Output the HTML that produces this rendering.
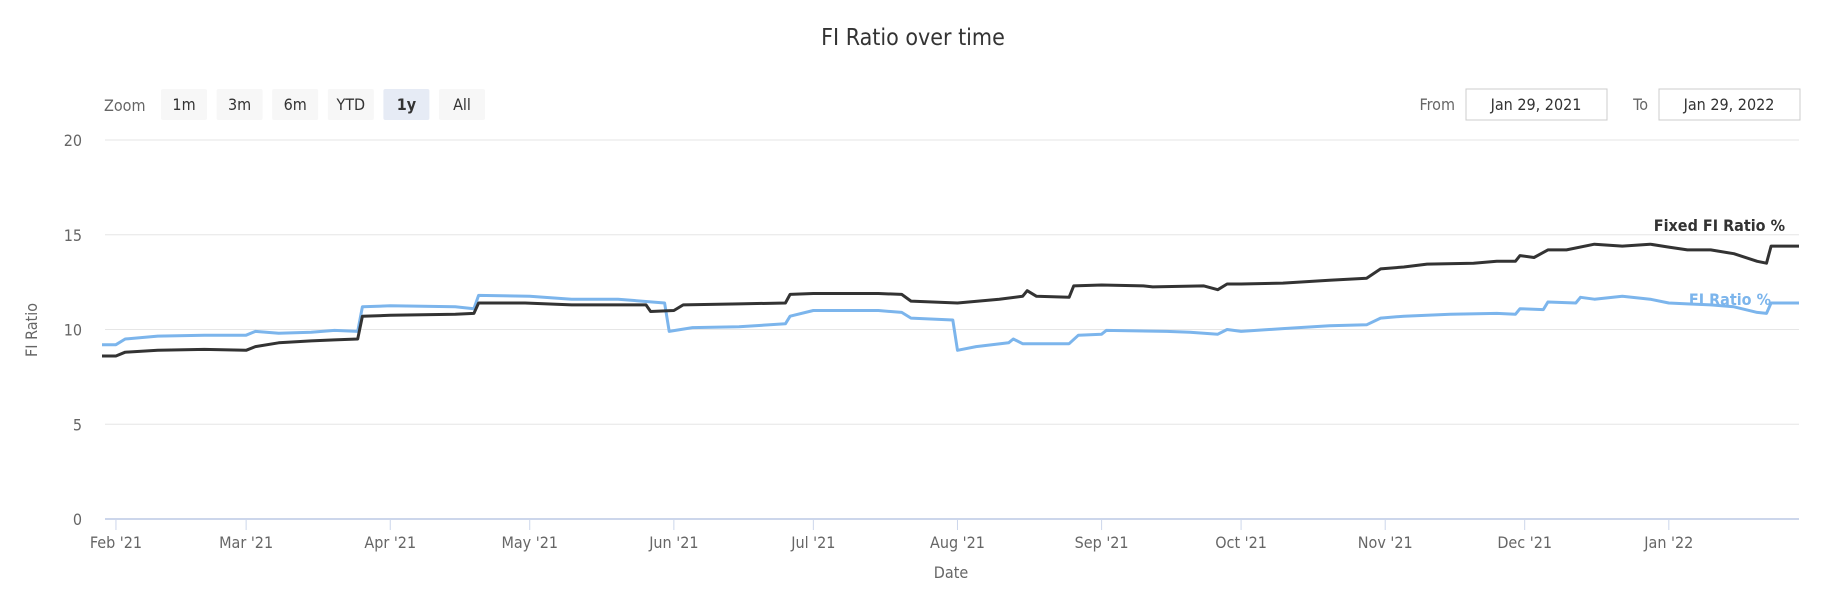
<!DOCTYPE html>
<html><head><meta charset="utf-8"><style>
body{margin:0;background:#fff;font-family:"Liberation Sans","DejaVu Sans",sans-serif;}
svg text{font-family:"DejaVu Sans Condensed","Liberation Sans",sans-serif;}
</style></head><body>
<svg id="c" width="1826" height="600" xmlns="http://www.w3.org/2000/svg">
<text x="913" y="45" text-anchor="middle" font-size="23" fill="#333">FI Ratio over time</text>
<text x="104" y="111" font-size="16" fill="#666">Zoom</text>
<g id="btns"></g>
<text x="1455" y="110" text-anchor="end" font-size="16" fill="#666">From</text>
<rect x="1466" y="89" width="141" height="31" fill="#fff" stroke="#ccc"/>
<text x="1536" y="110" text-anchor="middle" font-size="16" fill="#333">Jan 29, 2021</text>
<text x="1648" y="110" text-anchor="end" font-size="16" fill="#666">To</text>
<rect x="1659" y="89" width="141" height="31" fill="#fff" stroke="#ccc"/>
<text x="1729" y="110" text-anchor="middle" font-size="16" fill="#333">Jan 29, 2022</text>
<g id="grid"></g><g id="series"></g>
<text transform="translate(37,330) rotate(-90)" text-anchor="middle" font-size="16" fill="#666">FI Ratio</text>
<text x="951" y="578" text-anchor="middle" font-size="16" fill="#666">Date</text>
</svg>
<script>
const fixedDates=["2021-01-29","2021-02-01","2021-02-03","2021-02-10","2021-02-20","2021-03-01","2021-03-03","2021-03-08","2021-03-15","2021-03-20","2021-03-25","2021-03-26","2021-04-01","2021-04-15","2021-04-19","2021-04-20","2021-04-30","2021-05-10","2021-05-20","2021-05-26","2021-05-27","2021-06-01","2021-06-03","2021-06-15","2021-06-25","2021-06-26","2021-07-01","2021-07-15","2021-07-20","2021-07-22","2021-08-01","2021-08-10","2021-08-15","2021-08-16","2021-08-18","2021-08-25","2021-08-26","2021-09-01","2021-09-10","2021-09-12","2021-09-23","2021-09-26","2021-09-28","2021-10-01","2021-10-10","2021-10-20","2021-10-28","2021-10-31","2021-11-05","2021-11-10","2021-11-20","2021-11-25","2021-11-29","2021-11-30","2021-12-03","2021-12-06","2021-12-10","2021-12-16","2021-12-22","2021-12-28","2022-01-01","2022-01-05","2022-01-10","2022-01-15","2022-01-20","2022-01-22","2022-01-23","2022-01-29"];
const fixedValues=[8.6,8.6,8.8,8.9,8.95,8.9,9.1,9.3,9.4,9.45,9.5,10.7,10.75,10.8,10.85,11.4,11.4,11.3,11.3,11.3,10.95,11.0,11.3,11.35,11.4,11.85,11.9,11.9,11.85,11.5,11.4,11.6,11.75,12.05,11.75,11.7,12.3,12.35,12.3,12.25,12.3,12.1,12.4,12.4,12.45,12.6,12.7,13.2,13.3,13.45,13.5,13.6,13.6,13.9,13.8,14.2,14.2,14.5,14.4,14.5,14.35,14.2,14.2,14.0,13.6,13.5,14.4,14.4];
const fiDates=["2021-01-29","2021-02-01","2021-02-03","2021-02-10","2021-02-20","2021-03-01","2021-03-03","2021-03-08","2021-03-15","2021-03-20","2021-03-25","2021-03-26","2021-04-01","2021-04-15","2021-04-19","2021-04-20","2021-05-01","2021-05-10","2021-05-20","2021-05-30","2021-05-31","2021-06-05","2021-06-15","2021-06-25","2021-06-26","2021-07-01","2021-07-15","2021-07-20","2021-07-22","2021-07-31","2021-08-01","2021-08-05","2021-08-12","2021-08-13","2021-08-15","2021-08-25","2021-08-27","2021-09-01","2021-09-02","2021-09-15","2021-09-20","2021-09-26","2021-09-28","2021-10-01","2021-10-10","2021-10-20","2021-10-28","2021-10-31","2021-11-05","2021-11-15","2021-11-25","2021-11-29","2021-11-30","2021-12-05","2021-12-06","2021-12-12","2021-12-13","2021-12-16","2021-12-22","2021-12-28","2022-01-01","2022-01-05","2022-01-10","2022-01-15","2022-01-20","2022-01-22","2022-01-23","2022-01-29"];
const fiValues=[9.2,9.2,9.5,9.65,9.7,9.7,9.9,9.8,9.85,9.95,9.9,11.2,11.25,11.2,11.1,11.8,11.75,11.6,11.6,11.4,9.9,10.1,10.15,10.3,10.7,11.0,11.0,10.9,10.6,10.5,8.9,9.1,9.3,9.5,9.25,9.25,9.7,9.75,9.95,9.9,9.85,9.75,10.0,9.9,10.05,10.2,10.25,10.6,10.7,10.8,10.85,10.8,11.1,11.05,11.45,11.4,11.7,11.6,11.75,11.6,11.4,11.35,11.3,11.2,10.9,10.85,11.4,11.4];
const yTicks=[0,5,10,15,20];
const xTickDates=["2021-02-01","2021-03-01","2021-04-01","2021-05-01","2021-06-01","2021-07-01","2021-08-01","2021-09-01","2021-10-01","2021-11-01","2021-12-01","2022-01-01"];
const xTickLabels=["Feb '21","Mar '21","Apr '21","May '21","Jun '21","Jul '21","Aug '21","Sep '21","Oct '21","Nov '21","Dec '21","Jan '22"];
const zoomButtons=["1m","3m","6m","YTD","1y","All"];
const NS="http://www.w3.org/2000/svg";
const t0=Date.parse("2021-01-29"),t1=Date.parse("2022-01-29");
const X0=102,X1=1799,Y0=519,Y1=140;
const xs=d=>X0+(Date.parse(d)-t0)/(t1-t0)*(X1-X0);
const ys=v=>Y0-v/20*(Y0-Y1);
function mk(tag,attrs,parent){const e=document.createElementNS(NS,tag);for(const k in attrs)e.setAttribute(k,attrs[k]);parent.appendChild(e);return e;}
const btns=document.getElementById('btns');
zoomButtons.forEach((b,i)=>{const x=161+i*55.6;
 const r=mk('rect',{x:x,y:89,width:46,height:31,rx:2,fill:b==='1y'?'#e6ebf5':'#f7f7f7'},btns);
 
 
 const t=mk('text',{x:x+23,y:110,'text-anchor':'middle','font-size':16,fill:'#333','font-weight':b==='1y'?'bold':'normal'},btns);t.textContent=b;
 
 });
const g=document.getElementById('grid');
yTicks.forEach(v=>{const y=ys(v);
 const l=mk('line',{x1:105,x2:1799,y1:y,y2:y,stroke:v===0?'#ccd6eb':'#e6e6e6','stroke-width':v===0?2:1},g);
 
 
 const t=mk('text',{x:82,y:y+6,'text-anchor':'end','font-size':16,fill:'#666'},g);t.textContent=v;
 
 });
xTickDates.forEach((d,i)=>{const x=xs(d);
 const l=mk('line',{x1:x,x2:x,y1:519,y2:530,stroke:'#ccd6eb'},g);
 
 
 const t=mk('text',{x:x,y:548,'text-anchor':'middle','font-size':16,fill:'#666'},g);t.textContent=xTickLabels[i];
 
 });
const s=document.getElementById('series');
function line(dates,vals,color,name){
 const p=mk('path',{d:dates.map((d,i)=>(i?'L':'M')+xs(d).toFixed(1)+' '+ys(vals[i]).toFixed(1)).join(' '),fill:'none',stroke:color,'stroke-width':3,'stroke-linejoin':'round'},s);
 
 }
line(fiDates,fiValues,'#7cb5ec','fi-ratio-line');
line(fixedDates,fixedValues,'#333333','fixed-fi-ratio-line');
const l1=mk('text',{x:1785,y:231,'text-anchor':'end','font-size':16,'font-weight':'bold',fill:'#333'},s);l1.textContent='Fixed FI Ratio %';


const l2=mk('text',{x:1771,y:305,'text-anchor':'end','font-size':16,'font-weight':'bold',fill:'#7cb5ec'},s);l2.textContent='FI Ratio %';


</script>
</body></html>
